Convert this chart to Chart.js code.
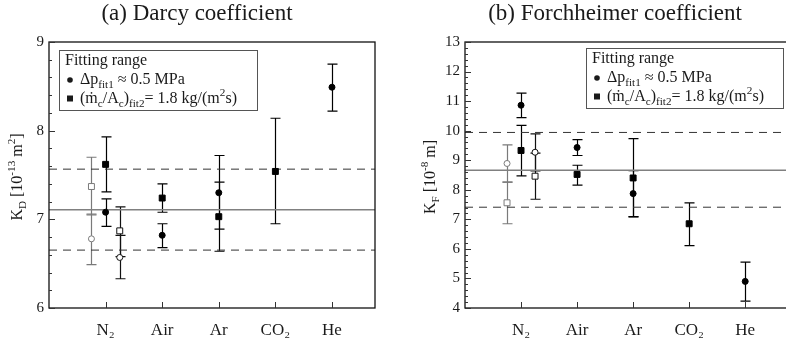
<!DOCTYPE html>
<html>
<head>
<meta charset="utf-8">
<script src="https://cdn.jsdelivr.net/npm/chart.js@4.4.1/dist/chart.umd.min.js"></script>
<style>
  html, body { margin: 0; padding: 0; background: #fff; overflow: hidden; }
  #wrap { position: relative; width: 786px; height: 344px; overflow: hidden; }
  #left { position: absolute; left: 0; top: 0; }
  #right { position: absolute; left: 393px; top: 0; }
</style>
</head>
<body>
<div id="wrap">
  <canvas id="left" width="393" height="344" style="width:393px;height:344px"></canvas>
  <canvas id="right" width="400" height="344" style="width:400px;height:344px"></canvas>
</div>
<script>
// Gases along the x axis
const gases = ['N₂', 'Air', 'Ar', 'CO₂', 'He'];

// (a) Darcy coefficient K_D [1e-13 m²], one value per gas (null = not measured)
const kdFit1   = [7.08, 6.82, 7.30, null, 8.49];
const kdFit1Lo = [6.92, 6.68, 6.89, null, 8.22];
const kdFit1Hi = [7.23, 6.95, 7.72, null, 8.75];
const kdFit2   = [7.62, 7.24, 7.03, 7.54, null];
const kdFit2Lo = [7.31, 7.08, 6.64, 6.95, null];
const kdFit2Hi = [7.93, 7.40, 7.42, 8.14, null];
// extra N2 runs, [fit1, fit2]
const kdN2Gray   = [6.78, 7.37];
const kdN2GrayLo = [6.49, 7.05];
const kdN2GrayHi = [7.06, 7.70];
const kdN2Open   = [6.57, 6.87];
const kdN2OpenLo = [6.33, 6.58];
const kdN2OpenHi = [6.82, 7.14];
// mean and band [lower, mean, upper]
const kdBand = [6.653, 7.108, 7.566];
const kdTicks = [6, 7, 8, 9];

// (b) Forchheimer coefficient K_F [1e-8 m]
const kfFit1   = [10.86, 9.43, 7.87, null, 4.90];
const kfFit1Lo = [10.44, 9.16, 7.09, null, 4.23];
const kfFit1Hi = [11.27, 9.70, 8.65, null, 5.55];
const kfFit2   = [9.33, 8.52, 8.40, 6.85, null];
const kfFit2Lo = [8.47, 8.16, 7.08, 6.11, null];
const kfFit2Hi = [10.18, 8.83, 9.73, 7.56, null];
const kfN2Gray   = [8.89, 7.56];
const kfN2GrayLo = [8.26, 6.85];
const kfN2GrayHi = [9.52, 8.26];
const kfN2Open   = [9.27, 8.46];
const kfN2OpenLo = [8.64, 7.68];
const kfN2OpenHi = [9.89, 9.24];
const kfBand = [7.41, 8.66, 9.94];
const kfTicks = [4, 5, 6, 7, 8, 9, 10, 11, 12, 13];

const SERIF = '"Liberation Serif", "DejaVu Serif", serif';
const X_MAX = 5.76;
const N2_SHIFT = 0.25;
const GRAY = '#7a7a7a';

function pts(vals, lo, hi, xs) {
    const out = [];
    vals.forEach((v, i) => {
        if (v === null) return;
        out.push({ x: xs[i], y: v, lo: lo[i], hi: hi[i] });
    });
    return out;
}

function drawRich(ctx, x, y, segs, size, align) {
    const widths = segs.map(s => {
        ctx.font = ((s.sub || s.sup) ? size * 0.7 : size) + 'px ' + SERIF;
        return ctx.measureText(s.t).width;
    });
    const total = widths.reduce((a, b) => a + b, 0);
    let cx = align === 'center' ? x - total / 2 : x;
    ctx.textAlign = 'left';
    ctx.textBaseline = 'alphabetic';
    segs.forEach((s, i) => {
        ctx.font = ((s.sub || s.sup) ? size * 0.7 : size) + 'px ' + SERIF;
        const dy = s.sub ? size * 0.22 : (s.sup ? -size * 0.42 : 0);
        ctx.fillText(s.t, cx, y + dy);
        cx += widths[i];
    });
}

const fitLegend = [
    [{ t: 'Δp' }, { t: 'fit1', sub: true }, { t: ' ≈ 0.5 MPa' }],
    [{ t: '(ṁ' }, { t: 'c', sub: true }, { t: '/A' }, { t: 'c', sub: true }, { t: ')' },
     { t: 'fit2', sub: true }, { t: '= 1.8 kg/(m' }, { t: '2', sup: true }, { t: 's)' }]
];

const decor = {
    id: 'decor',
    beforeDatasetsDraw(chart) {
        const ctx = chart.ctx;
        const ys = chart.scales.y, xs = chart.scales.x;
        ctx.save();
        chart.data.datasets.forEach(ds => {
            if (!ds.errorBars) return;
            ctx.strokeStyle = ds.borderColor;
            ctx.lineWidth = 1.2;
            ds.data.forEach(p => {
                const px = Math.round(xs.getPixelForValue(p.x)) + 0.5;
                const lo = ys.getPixelForValue(p.lo), hi = ys.getPixelForValue(p.hi);
                ctx.beginPath();
                ctx.moveTo(px, lo); ctx.lineTo(px, hi);
                ctx.moveTo(px - 5, lo); ctx.lineTo(px + 5, lo);
                ctx.moveTo(px - 5, hi); ctx.lineTo(px + 5, hi);
                ctx.stroke();
            });
        });
        ctx.restore();
    },
    afterDraw(chart) {
        const o = chart.options.plugins.decor;
        const ctx = chart.ctx, a = chart.chartArea;
        const ys = chart.scales.y, xs = chart.scales.x;
        ctx.save();
        // frame
        ctx.strokeStyle = '#111';
        ctx.lineWidth = 1.3;
        ctx.strokeRect(a.left, a.top, a.right - a.left, a.bottom - a.top);
        // y ticks, major and minor, inward
        ctx.lineWidth = 1;
        ctx.strokeStyle = '#333';
        ctx.beginPath();
        const yMin = ys.min, yMax = ys.max;
        for (let k = 0; k <= Math.round((yMax - yMin) * 5); k++) {
            const v = yMin + k * 0.2;
            const py = Math.round(ys.getPixelForValue(v)) + 0.5;
            const len = (k % 5 === 0) ? 6 : 3;
            ctx.moveTo(a.left, py); ctx.lineTo(a.left + len, py);
        }
        // x ticks at gases
        gases.forEach((g, i) => {
            const px = Math.round(xs.getPixelForValue(i + 1)) + 0.5;
            ctx.moveTo(px, a.bottom); ctx.lineTo(px, a.bottom - 6);
        });
        ctx.stroke();

        ctx.fillStyle = '#1a1a1a';
        // title
        ctx.font = o.titleSize + 'px ' + SERIF;
        ctx.textAlign = 'center';
        ctx.textBaseline = 'alphabetic';
        ctx.fillText(o.title, o.titleX, 20);
        // y title (rotated)
        ctx.save();
        ctx.translate(o.yTitleX, (a.top + a.bottom) / 2 + 2);
        ctx.rotate(-Math.PI / 2);
        drawRich(ctx, 0, 5, o.yTitle, 16, 'center');
        ctx.restore();
        // legend box
        const L = o.legend;
        ctx.strokeStyle = '#555';
        ctx.lineWidth = 1;
        ctx.strokeRect(L.x + 0.5, L.y + 0.5, L.w, L.h);
        ctx.font = '16px ' + SERIF;
        ctx.textAlign = 'left';
        ctx.fillText('Fitting range', L.x + 6, L.y + 15);
        ctx.beginPath();
        ctx.arc(L.x + 11, L.y + 30, 2.8, 0, Math.PI * 2);
        ctx.fill();
        ctx.fillRect(L.x + 8, L.y + 45.5, 6, 6);
        drawRich(ctx, L.x + 21, L.y + 34, fitLegend[0], 16);
        drawRich(ctx, L.x + 21, L.y + 53, fitLegend[1], 16);
        ctx.restore();
    }
};

function makePanel(id, cfg) {
    const gx = gases.map((g, i) => i + 1);
    const grayX = [1 - N2_SHIFT, 1 - N2_SHIFT];
    const openX = [1 + N2_SHIFT, 1 + N2_SHIFT];
    const pointDs = (data, style, fill, color, radius) => ({
        type: 'scatter', data, errorBars: true,
        pointStyle: style, pointRadius: radius,
        backgroundColor: fill, borderColor: color, borderWidth: 1
    });
    const lineDs = (v, color, width, dash) => ({
        type: 'line', data: [{ x: 0, y: v }, { x: X_MAX, y: v }],
        borderColor: color, borderWidth: width, borderDash: dash,
        pointRadius: 0, fill: false
    });
    return new Chart(document.getElementById(id), {
        data: {
            datasets: [
                pointDs(pts(cfg.fit1, cfg.fit1Lo, cfg.fit1Hi, gx), 'circle', '#000', '#000', 3),
                pointDs(pts(cfg.fit2, cfg.fit2Lo, cfg.fit2Hi, gx), 'rect', '#000', '#000', 4.2),
                pointDs(pts([cfg.open[0]], [cfg.openLo[0]], [cfg.openHi[0]], openX), 'circle', '#fff', '#111', 3),
                pointDs(pts([cfg.open[1]], [cfg.openLo[1]], [cfg.openHi[1]], openX), 'rect', '#fff', '#111', 4.2),
                pointDs(pts([cfg.gray[0]], [cfg.grayLo[0]], [cfg.grayHi[0]], grayX), 'circle', '#fff', GRAY, 3),
                pointDs(pts([cfg.gray[1]], [cfg.grayLo[1]], [cfg.grayHi[1]], grayX), 'rect', '#fff', GRAY, 4.2),
                lineDs(cfg.band[0], '#333', 1, [8, 6]),
                lineDs(cfg.band[2], '#333', 1, [8, 6]),
                lineDs(cfg.band[1], '#808080', 1.6, [])
            ]
        },
        options: {
            responsive: false,
            animation: false,
            layout: { padding: { top: 42, right: cfg.padRight, left: 0, bottom: 0 } },
            plugins: {
                legend: { display: false },
                tooltip: { enabled: false },
                decor: cfg.decor
            },
            scales: {
                x: {
                    type: 'linear', min: 0, max: X_MAX,
                    afterBuildTicks: s => { s.ticks = gx.map(v => ({ value: v })); },
                    afterFit: s => { s.height = 36; },
                    ticks: {
                        callback: v => gases[v - 1] || '',
                        font: { family: SERIF, size: 17 }, color: '#1a1a1a',
                        padding: 12, maxRotation: 0, autoSkip: false
                    },
                    grid: { display: false, drawTicks: false },
                    border: { display: false }
                },
                y: {
                    type: 'linear', min: cfg.ticks[0], max: cfg.ticks[cfg.ticks.length - 1],
                    afterBuildTicks: s => { s.ticks = cfg.ticks.map(v => ({ value: v })); },
                    afterFit: s => { s.width = cfg.yWidth; },
                    ticks: {
                        font: { family: SERIF, size: 15 }, color: '#1a1a1a',
                        padding: 5
                    },
                    grid: { display: false, drawTicks: false },
                    border: { display: false }
                }
            }
        },
        plugins: [decor]
    });
}

makePanel('left', {
    fit1: kdFit1, fit1Lo: kdFit1Lo, fit1Hi: kdFit1Hi,
    fit2: kdFit2, fit2Lo: kdFit2Lo, fit2Hi: kdFit2Hi,
    gray: kdN2Gray, grayLo: kdN2GrayLo, grayHi: kdN2GrayHi,
    open: kdN2Open, openLo: kdN2OpenLo, openHi: kdN2OpenHi,
    band: kdBand, ticks: kdTicks,
    yWidth: 49, padRight: 18,
    decor: {
        title: '(a) Darcy coefficient', titleSize: 23, titleX: 197,
        yTitleX: 17,
        yTitle: [{ t: 'K' }, { t: 'D', sub: true }, { t: ' [10' }, { t: '-13', sup: true },
                 { t: ' m' }, { t: '2', sup: true }, { t: ']' }],
        legend: { x: 59, y: 50, w: 198, h: 60 }
    }
});

makePanel('right', {
    fit1: kfFit1, fit1Lo: kfFit1Lo, fit1Hi: kfFit1Hi,
    fit2: kfFit2, fit2Lo: kfFit2Lo, fit2Hi: kfFit2Hi,
    gray: kfN2Gray, grayLo: kfN2GrayLo, grayHi: kfN2GrayHi,
    open: kfN2Open, openLo: kfN2OpenLo, openHi: kfN2OpenHi,
    band: kfBand, ticks: kfTicks,
    yWidth: 72, padRight: 2,
    decor: {
        title: '(b) Forchheimer coefficient', titleSize: 23, titleX: 222,
        yTitleX: 37,
        yTitle: [{ t: 'K' }, { t: 'F', sub: true }, { t: ' [10' }, { t: '-8', sup: true },
                 { t: ' m]' }],
        legend: { x: 193, y: 48, w: 197, h: 60 }
    }
});
</script>
</body>
</html>
